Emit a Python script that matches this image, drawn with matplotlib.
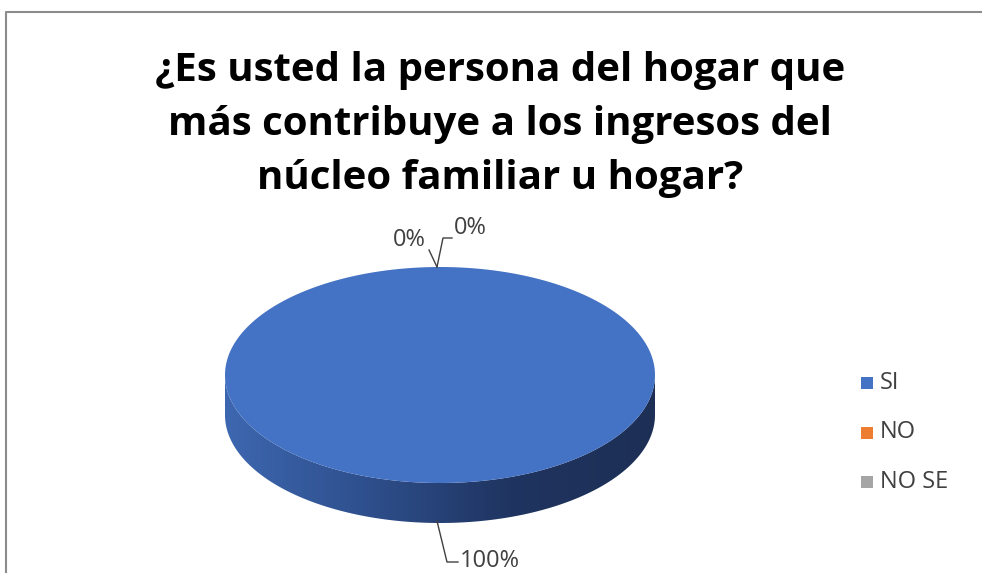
import matplotlib.pyplot as plt
import numpy as np
from matplotlib.patches import Polygon, Rectangle
from matplotlib.colors import LinearSegmentedColormap

# data
categories = ['SI', 'NO', 'NO SE']
values = [100, 0, 0]
colors = ['#4472C4', '#ED7D31', '#A5A5A5']
title = '¿Es usted la persona del hogar que\nmás contribuye a los ingresos del\nnúcleo familiar u hogar?'

fig = plt.figure(figsize=(9.82, 5.73), dpi=100)
ax = fig.add_axes([0, 0, 1, 1])
ax.set_xlim(0, 982)
ax.set_ylim(573, 0)
ax.axis('off')

# outer chart frame (only top and left visible)
ax.plot([6, 6, 990], [590, 11.5, 11.5], color='#8c8c8c', lw=1.5)

ax.text(500, 124, title, ha='center', va='center', fontsize=29,
        fontweight='bold', family='Open Sans', linespacing=1.5)

# pie geometry (pixels)
cx, cy = 440, 375
rx, ry = 215, 108
depth = 40

total = sum(values)
start = 90.0

# side wall, only the front half is visible
ts = np.linspace(0, np.pi, 300)
front_x = cx + rx * np.cos(ts)
front_y = cy + ry * np.sin(ts)
side = np.concatenate([
    np.column_stack([front_x, front_y]),
    np.column_stack([front_x[::-1], front_y[::-1] + depth]),
])
side_patch = Polygon(side, closed=True, facecolor='none', edgecolor='none')
ax.add_patch(side_patch)
cmap = LinearSegmentedColormap.from_list('side', ['#3D67B0', '#2E4F8C', '#1F3460', '#1D2F55'])
grad = np.linspace(0, 1, 256).reshape(1, -1)
im = ax.imshow(grad, cmap=cmap, extent=[cx - rx, cx + rx, cy + ry + depth, cy - 5],
               aspect='auto', zorder=2)
im.set_clip_path(side_patch)

# top face wedges
ang = start
for val, col in zip(values, colors):
    sweep = 360.0 * val / total
    if sweep <= 0:
        continue
    a = np.radians(np.linspace(ang, ang - sweep, 400))
    px = cx + rx * np.cos(a)
    py = cy - ry * np.sin(a)
    if sweep < 360:
        px = np.concatenate([[cx], px])
        py = np.concatenate([[cy], py])
    ax.add_patch(Polygon(np.column_stack([px, py]), closed=True,
                         facecolor=col, edgecolor='none', zorder=3))
    ang -= sweep

# data labels with leader lines
pct = ['{:.0f}%'.format(100.0 * v / total) for v in values]
lc = '#404040'
fs = 17
ax.plot([437, 447, 458], [521, 562, 562], color=lc, lw=1, zorder=4)
ax.text(460, 561, pct[0], fontsize=fs, va='center', ha='left', color='#404040', family='Open Sans')
ax.plot([437, 429], [267, 250], color=lc, lw=1, zorder=4)
ax.text(426, 240, pct[1], fontsize=fs, va='center', ha='right', color='#404040', family='Open Sans')
ax.plot([437, 443, 452], [267, 238, 238], color=lc, lw=1, zorder=4)
ax.text(454, 228, pct[2], fontsize=fs, va='center', ha='left', color='#404040', family='Open Sans')

# legend
for i, (lab, col) in enumerate(zip(categories, colors)):
    y = 383 + i * 49.5
    ax.add_patch(Rectangle((861.5, y - 6), 12, 12, facecolor=col, edgecolor='none'))
    ax.text(880, y, lab, fontsize=17, va='center', ha='left', color='#404040', family='Open Sans')

fig.savefig('out.png', dpi=100)
